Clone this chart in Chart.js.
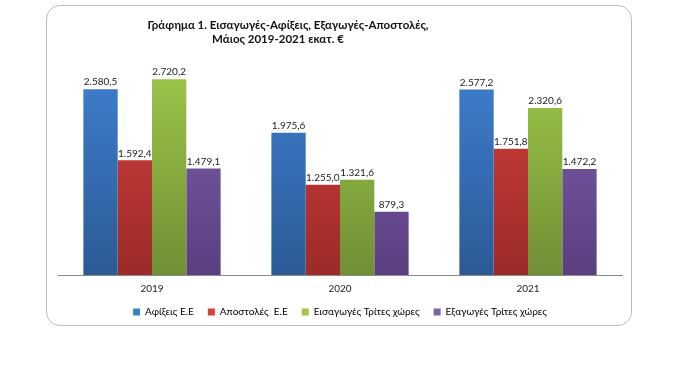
<!DOCTYPE html>
<html>
<head>
<meta charset="utf-8">
<script src="https://cdn.jsdelivr.net/npm/chart.js@4.4.1/dist/chart.umd.min.js"></script>
<style>
  html, body { margin: 0; padding: 0; background: #fff; }
  #frame {
    position: absolute; left: 46px; top: 5px; width: 586px; height: 321px;
    border: 1.5px solid #bdbdbd; border-radius: 14px; box-sizing: border-box;
  }
  #wrap { position: absolute; left: 0; top: 0; width: 700px; height: 366px; }
</style>
</head>
<body>
<div id="frame"></div>
<div id="wrap"><canvas id="chart" width="700" height="366"></canvas></div>
<script>
// years on the x axis
const years = ['2019', '2020', '2021'];

// million euro, May of each year
const afixeis = [2580.5, 1975.6, 2577.2];
const apostoles = [1592.4, 1255.0, 1751.8];
const eisagoges = [2720.2, 1321.6, 2320.6];
const exagoges = [1479.1, 879.3, 1472.2];

const seriesNames = ['Αφίξεις Ε.Ε', 'Αποστολές  Ε.Ε', 'Εισαγωγές Τρίτες χώρες', 'Εξαγωγές Τρίτες χώρες'];
const titleLines = ['Γράφημα 1. Εισαγωγές-Αφίξεις, Εξαγωγές-Αποστολές,', 'Μάιος 2019-2021 εκατ. €'];

const FONT = 'Lato, "Open Sans", "DejaVu Sans", sans-serif';

// top / bottom colour of each bar gradient
const shades = [
  ['#3f7fd0', '#2c5a96'],
  ['#d3403d', '#9c2b29'],
  ['#9fc84a', '#718f35'],
  ['#8260ad', '#5a3f80'],
];

function gradientFor(i) {
  return (ctx) => {
    const area = ctx.chart.chartArea;
    if (!area) return shades[i][0];
    const g = ctx.chart.ctx.createLinearGradient(0, area.top, 0, area.bottom);
    g.addColorStop(0, shades[i][0]);
    g.addColorStop(1, shades[i][1]);
    return g;
  };
}

// 2580.5 -> "2.580,5"
function fmt(v) {
  const parts = v.toFixed(1).split('.');
  const int = parts[0].replace(/\B(?=(\d{3})+(?!\d))/g, '.');
  return int + ',' + parts[1];
}

const valueLabels = {
  id: 'valueLabels',
  afterDatasetsDraw(chart) {
    const c = chart.ctx;
    c.save();
    c.font = '10px ' + FONT;
    c.fillStyle = '#222';
    c.textAlign = 'center';
    c.textBaseline = 'middle';
    chart.data.datasets.forEach((ds, i) => {
      chart.getDatasetMeta(i).data.forEach((bar, j) => {
        c.fillText(fmt(ds.data[j]), bar.x, bar.y - 7);
      });
    });
    c.restore();
  },
};

const titleText = {
  id: 'titleText',
  afterDraw(chart) {
    const c = chart.ctx;
    c.save();
    c.font = 'bold 11.5px ' + FONT;
    c.fillStyle = '#111';
    c.textAlign = 'center';
    c.textBaseline = 'middle';
    c.fillText(titleLines[0], 288, 25);
    c.fillText(titleLines[1], 278, 39);
    c.restore();
  },
};

const data = [afixeis, apostoles, eisagoges, exagoges];

new Chart(document.getElementById('chart'), {
  type: 'bar',
  data: {
    labels: years,
    datasets: data.map((d, i) => ({
      label: seriesNames[i],
      data: d,
      backgroundColor: gradientFor(i),
      borderWidth: 0,
      categoryPercentage: 0.73,
      barPercentage: 1.0,
    })),
  },
  options: {
    responsive: false,
    animation: false,
    layout: { padding: { left: 58, right: 78, top: 59, bottom: 39 } },
    scales: {
      x: {
        grid: { display: false, drawTicks: false },
        border: { color: '#8a8a8a', width: 1 },
        ticks: { color: '#222', font: { family: FONT, size: 10 }, padding: 8 },
        afterFit(scale) { scale.height = 18; },
      },
      y: {
        display: false,
        min: 0,
        max: 3000,
      },
    },
    plugins: {
      title: { display: false },
      tooltip: { enabled: false },
      legend: {
        position: 'bottom',
        labels: {
          boxWidth: 7,
          boxHeight: 7,
          padding: 14,
          color: '#222',
          font: { family: FONT, size: 10 },
          generateLabels(chart) {
            return chart.data.datasets.map((ds, i) => ({
              text: ds.label,
              fillStyle: shades[i][0],
              strokeStyle: shades[i][0],
              lineWidth: 0,
              datasetIndex: i,
            }));
          },
        },
      },
    },
  },
  plugins: [valueLabels, titleText],
});
</script>
</body>
</html>
